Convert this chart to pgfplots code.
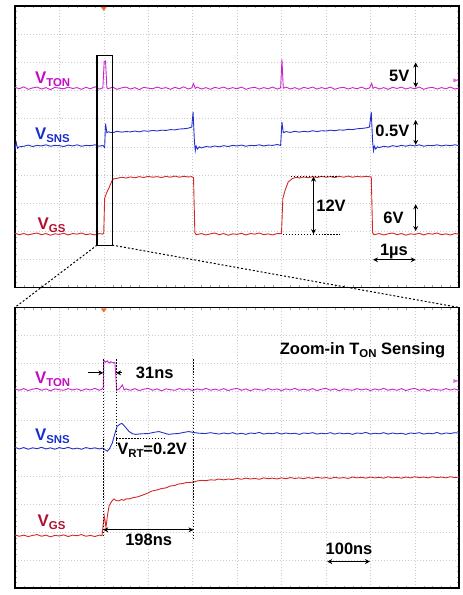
\documentclass[border=0pt]{standalone}
\usepackage{fontspec}
\setmainfont{Liberation Sans}
\usepackage{pgfplots}
\pgfplotsset{compat=1.18}
\usetikzlibrary{arrows.meta}
\definecolor{Ton}{HTML}{CC22CC}
\definecolor{TonLab}{HTML}{C40CC4}
\definecolor{Sns}{HTML}{2230CC}
\definecolor{SnsLab}{HTML}{1A2ECC}
\definecolor{Gs}{HTML}{D42626}
\definecolor{GsLab}{HTML}{B0102E}
\definecolor{Trig}{HTML}{F07030}
\newcommand{\sub}[1]{\raisebox{-0.35ex}{\fontsize{11.5}{12}\selectfont #1}}

% top panel, 1 us/div (x and y in divisions)
\pgfplotstableread{
x y
0.0 7.11
0.1 7.06
0.2 7.13
0.3 7.04
0.4 7.09
0.5 7.12
0.6 7.05
0.7 7.10
0.8 7.03
0.9 7.11
1.0 7.08
1.1 7.06
1.2 7.12
1.3 7.07
1.4 7.10
1.5 7.04
1.6 7.11
1.7 7.06
1.8 7.13
1.9 7.05
1.98 7.09
2.01 8.03
2.04 8.05
2.07 7.10
2.1 7.06
2.2 7.12
2.3 7.04
2.4 7.09
2.5 7.12
2.6 7.05
2.7 7.10
2.8 7.03
2.9 7.11
3.0 7.08
3.1 7.06
3.2 7.12
3.3 7.07
3.4 7.10
3.5 7.04
3.6 7.11
3.7 7.06
3.8 7.13
3.9 7.05
3.98 7.09
4.02 7.24
4.06 7.07
4.1 7.12
4.2 7.05
4.3 7.10
4.4 7.04
4.5 7.11
4.6 7.07
4.7 7.12
4.8 7.05
4.9 7.10
5.0 7.06
5.1 7.12
5.2 7.04
5.3 7.09
5.4 7.11
5.5 7.05
5.6 7.10
5.7 7.06
5.8 7.12
5.9 7.05
5.98 7.09
6.01 8.10
6.04 7.08
6.1 7.12
6.2 7.05
6.3 7.10
6.4 7.04
6.5 7.11
6.6 7.07
6.7 7.12
6.8 7.05
6.9 7.10
7.0 7.06
7.1 7.12
7.2 7.04
7.3 7.09
7.4 7.11
7.5 7.05
7.6 7.10
7.7 7.06
7.8 7.12
7.9 7.05
7.98 7.09
8.03 7.25
8.06 7.07
8.1 7.12
8.2 7.05
8.3 7.10
8.4 7.04
8.5 7.11
8.6 7.07
8.7 7.12
8.8 7.05
8.9 7.10
9.0 7.06
9.1 7.12
9.2 7.04
9.3 7.09
9.4 7.11
9.5 7.05
9.6 7.10
9.7 7.06
9.8 7.12
9.9 7.05
10.0 7.09
}\topton
\pgfplotstableread{
x y
0.0 4.90
0.03 5.15
0.06 4.95
0.1 5.00
0.2 5.02
0.3 5.06
0.4 5.01
0.5 5.05
0.6 5.03
0.7 5.07
0.8 5.02
0.9 5.05
1.0 5.04
1.1 5.01
1.2 5.06
1.3 5.03
1.4 5.07
1.5 5.02
1.6 5.05
1.7 5.04
1.8 5.07
1.9 5.02
1.98 5.05
2.02 4.97
2.04 5.82
2.07 5.50
2.1 5.53
2.2 5.50
2.3 5.55
2.4 5.52
2.5 5.54
2.6 5.53
2.7 5.56
2.8 5.53
2.9 5.57
3.0 5.55
3.1 5.58
3.2 5.56
3.3 5.59
3.4 5.58
3.5 5.61
3.6 5.60
3.7 5.63
3.8 5.64
3.9 5.66
3.98 5.70
4.01 6.23
4.04 5.20
4.06 4.86
4.08 5.02
4.11 4.92
4.15 5.00
4.2 4.96
4.3 5.01
4.4 4.99
4.5 5.03
4.6 5.00
4.7 5.04
4.8 5.01
4.9 5.05
5.0 5.03
5.1 5.06
5.2 5.02
5.3 5.05
5.4 5.04
5.5 5.07
5.6 5.03
5.7 5.06
5.8 5.05
5.9 5.08
5.98 5.05
6.01 5.88
6.04 5.50
6.1 5.54
6.2 5.51
6.3 5.55
6.4 5.52
6.5 5.55
6.6 5.53
6.7 5.57
6.8 5.54
6.9 5.57
7.0 5.56
7.1 5.59
7.2 5.57
7.3 5.60
7.4 5.59
7.5 5.62
7.6 5.61
7.7 5.64
7.8 5.65
7.9 5.67
7.98 5.70
8.02 6.23
8.05 5.20
8.07 4.86
8.09 5.02
8.12 4.92
8.16 5.00
8.2 4.97
8.3 5.02
8.4 4.99
8.5 5.04
8.6 5.01
8.7 5.05
8.8 5.02
8.9 5.06
9.0 5.03
9.1 5.07
9.2 5.02
9.3 5.05
9.4 5.04
9.5 5.07
9.6 5.03
9.7 5.06
9.8 5.04
9.9 5.07
10.0 5.04
}\topsns
\pgfplotstableread{
x y
0.0 1.93
0.1 1.88
0.2 1.92
0.3 1.87
0.4 1.91
0.5 1.94
0.6 1.88
0.7 1.92
0.8 1.86
0.9 1.91
1.0 1.89
1.1 1.93
1.2 1.87
1.3 1.92
1.4 1.90
1.5 1.94
1.6 1.88
1.7 1.91
1.8 1.87
1.9 1.92
1.98 1.90
2.00 1.95
2.02 3.17
2.06 3.35
2.12 3.55
2.18 3.78
2.22 3.86
2.3 3.88
2.4 3.92
2.5 3.89
2.6 3.93
2.7 3.90
2.8 3.94
2.9 3.91
3.0 3.95
3.1 3.92
3.2 3.94
3.3 3.91
3.4 3.95
3.5 3.92
3.6 3.96
3.7 3.92
3.8 3.95
3.9 3.93
3.98 3.94
4.02 3.90
4.05 1.95
4.08 1.88
4.2 1.92
4.3 1.87
4.4 1.91
4.5 1.94
4.6 1.88
4.7 1.92
4.8 1.86
4.9 1.91
5.0 1.89
5.1 1.93
5.2 1.87
5.3 1.92
5.4 1.90
5.5 1.94
5.6 1.88
5.7 1.91
5.8 1.87
5.9 1.92
6.00 1.92
6.03 3.17
6.08 3.45
6.15 3.75
6.25 3.88
6.35 3.92
6.4 3.89
6.5 3.93
6.6 3.90
6.7 3.94
6.8 3.91
6.9 3.95
7.0 3.92
7.1 3.94
7.2 3.91
7.3 3.95
7.4 3.92
7.5 3.96
7.6 3.92
7.7 3.95
7.8 3.93
7.9 3.95
8.02 3.93
8.05 1.95
8.08 1.88
8.2 1.92
8.3 1.87
8.4 1.91
8.5 1.94
8.6 1.88
8.7 1.92
8.8 1.86
8.9 1.91
9.0 1.89
9.1 1.93
9.2 1.87
9.3 1.92
9.4 1.90
9.5 1.94
9.6 1.88
9.7 1.91
9.8 1.87
9.9 1.92
10.0 1.90
}\topgs

% bottom panel, 100 ns/div
\pgfplotstableread{
x y
0.0 7.10
0.1 7.05
0.2 7.11
0.3 7.04
0.4 7.09
0.5 7.12
0.6 7.05
0.7 7.10
0.8 7.03
0.9 7.10
1.0 7.07
1.1 7.05
1.2 7.11
1.3 7.06
1.4 7.10
1.5 7.04
1.6 7.10
1.7 7.06
1.8 7.12
1.9 7.05
1.96 7.09
1.99 7.15
2.00 8.12
2.04 8.05
2.08 8.10
2.12 8.02
2.16 8.07
2.20 8.03
2.25 8.04
2.27 7.60
2.29 7.05
2.35 7.10
2.42 7.24
2.46 7.06
2.5 7.10
2.6 7.05
2.7 7.11
2.8 7.04
2.9 7.09
3.0 7.12
3.1 7.05
3.2 7.10
3.3 7.03
3.4 7.10
3.5 7.07
3.6 7.05
3.7 7.11
3.8 7.06
3.9 7.10
4.0 7.04
4.1 7.10
4.2 7.06
4.3 7.12
4.4 7.05
4.5 7.09
4.6 7.05
4.7 7.11
4.8 7.04
4.9 7.09
5.0 7.12
5.1 7.05
5.2 7.10
5.3 7.03
5.4 7.10
5.5 7.07
5.6 7.05
5.7 7.11
5.8 7.06
5.9 7.10
6.0 7.04
6.1 7.10
6.2 7.06
6.3 7.12
6.4 7.05
6.5 7.09
6.6 7.05
6.7 7.11
6.8 7.04
6.9 7.09
7.0 7.12
7.1 7.05
7.2 7.10
7.3 7.03
7.4 7.10
7.5 7.07
7.6 7.05
7.7 7.11
7.8 7.06
7.9 7.10
8.0 7.04
8.1 7.10
8.2 7.06
8.3 7.12
8.4 7.05
8.5 7.09
8.6 7.05
8.7 7.11
8.8 7.04
8.9 7.09
9.0 7.12
9.1 7.05
9.2 7.10
9.3 7.03
9.4 7.10
9.5 7.07
9.6 7.05
9.7 7.11
9.8 7.06
9.9 7.10
10.0 7.04
}\botton
\pgfplotstableread{
x y
0.0 5.02
0.1 4.96
0.2 5.01
0.3 4.95
0.4 5.00
0.5 4.97
0.6 5.02
0.7 4.96
0.8 5.00
0.9 4.95
1.0 5.01
1.1 4.97
1.2 5.02
1.3 4.96
1.4 4.99
1.5 4.95
1.6 5.01
1.7 4.97
1.8 5.00
1.9 4.96
1.98 4.99
2.03 4.93
2.08 4.88
2.13 4.97
2.19 5.16
2.25 5.50
2.30 5.76
2.36 5.84
2.41 5.87
2.48 5.75
2.57 5.58
2.65 5.50
2.72 5.48
2.85 5.50
3.01 5.51
3.12 5.55
3.24 5.58
3.35 5.53
3.46 5.48
3.57 5.50
3.68 5.51
3.80 5.55
3.91 5.58
4.05 5.54
4.15 5.52
4.29 5.51
4.40 5.54
4.51 5.51
4.6 5.49
4.7 5.53
4.8 5.50
4.9 5.54
5.0 5.49
5.1 5.52
5.2 5.48
5.3 5.53
5.4 5.51
5.5 5.55
5.6 5.49
5.7 5.52
5.8 5.50
5.9 5.54
6.0 5.49
6.1 5.53
6.2 5.50
6.3 5.52
6.4 5.48
6.5 5.53
6.6 5.51
6.7 5.54
6.8 5.49
6.9 5.52
7.0 5.50
7.1 5.54
7.2 5.49
7.3 5.53
7.4 5.50
7.5 5.52
7.6 5.48
7.7 5.53
7.8 5.51
7.9 5.55
8.0 5.49
8.1 5.52
8.2 5.50
8.3 5.54
8.4 5.49
8.5 5.53
8.6 5.50
8.7 5.52
8.8 5.48
8.9 5.53
9.0 5.51
9.1 5.54
9.2 5.49
9.3 5.52
9.4 5.50
9.5 5.55
9.6 5.49
9.7 5.53
9.8 5.51
9.9 5.54
10.0 5.52
}\botsns
\pgfplotstableread{
x y
0.0 1.90
0.1 1.85
0.2 1.89
0.3 1.84
0.4 1.88
0.5 1.91
0.6 1.85
0.7 1.89
0.8 1.83
0.9 1.88
1.0 1.86
1.1 1.90
1.2 1.84
1.3 1.89
1.4 1.87
1.5 1.91
1.6 1.85
1.7 1.88
1.8 1.84
1.9 1.89
1.96 1.87
2.01 2.58
2.03 2.40
2.05 2.16
2.08 2.55
2.12 2.93
2.18 3.10
2.23 3.18
2.28 3.12
2.34 3.11
2.40 3.16
2.45 3.13
2.50 3.18
2.57 3.18
2.65 3.22
2.75 3.25
2.83 3.29
2.95 3.36
3.08 3.46
3.20 3.50
3.30 3.55
3.39 3.57
3.50 3.64
3.60 3.66
3.68 3.71
3.78 3.73
3.85 3.76
3.95 3.77
4.02 3.78
4.1 3.82
4.2 3.84
4.3 3.83
4.4 3.86
4.5 3.85
4.58 3.89
4.7 3.86
4.8 3.89
4.9 3.87
5.0 3.91
5.1 3.88
5.2 3.92
5.3 3.89
5.4 3.91
5.5 3.88
5.6 3.93
5.7 3.90
5.8 3.92
5.9 3.89
6.0 3.93
6.1 3.90
6.2 3.94
6.3 3.91
6.4 3.93
6.5 3.90
6.6 3.94
6.7 3.91
6.8 3.95
6.9 3.92
7.0 3.94
7.1 3.91
7.2 3.95
7.3 3.92
7.4 3.94
7.5 3.91
7.6 3.96
7.7 3.93
7.8 3.95
7.9 3.92
8.0 3.96
8.1 3.93
8.2 3.95
8.3 3.92
8.4 3.97
8.5 3.93
8.6 3.95
8.7 3.92
8.8 3.96
8.9 3.93
9.0 3.97
9.1 3.94
9.2 3.96
9.3 3.93
9.4 3.97
9.5 3.94
9.6 3.96
9.7 3.93
9.8 3.97
9.9 3.94
10.0 3.96
}\botgs

\begin{document}
\begin{tikzpicture}[
  lab/.style={font=\bfseries\fontsize{17}{18}\selectfont, inner sep=0pt},
  ann/.style={font=\bfseries\fontsize{16.6}{18}\selectfont, inner sep=0pt},
  dbl/.style={line width=1.2pt, {Stealth[length=5pt,width=5pt]}-{Stealth[length=5pt,width=5pt]}},
  sgl/.style={line width=1.2pt, -{Stealth[length=5pt,width=5pt]}},
  vdot/.style={line width=1pt, dash pattern=on 1.5pt off 1.5pt}]
\pgfplotsset{scope/.style={
  scale only axis, width=448pt, xmin=0, xmax=10, ymin=0, ymax=10,
  xtick={0,...,10}, ytick={0,...,10}, xticklabels={}, yticklabels={},
  grid=major, major grid style={gray!40, dash pattern=on 0.8pt off 2.2pt},
  major tick length=0pt, minor x tick num=4, minor y tick num=4,
  minor tick length=2.5pt, minor tick style={gray!70}, tick align=inside,
  axis line style={line width=1.6pt}, clip=false},
  trace/.style={line width=0.9pt, no markers}}
\path (0,0) rectangle (465pt,595pt);

\begin{axis}[scope, name=top, height=284pt, at={(15pt,305pt)}, anchor=south west]
\addplot[trace, Ton] table {\topton};
\addplot[trace, Sns] table {\topsns};
\addplot[trace, Gs] table {\topgs};
\fill[Trig] (axis cs:2.0,10) ++(-3pt,-1pt) -- ++(6pt,0) -- ++(-3pt,-4pt) -- cycle;
\fill[Ton!70] (axis cs:10,7.36) ++(-1pt,0) -- ++(-5pt,2pt) -- ++(0,-4pt) -- cycle;
\draw[line width=1.2pt] (axis cs:1.85,1.51) rectangle (axis cs:2.19,8.24);
\coordinate (boxBL) at (axis cs:1.85,1.51);
\coordinate (boxBR) at (axis cs:2.19,1.51);
\node[lab, TonLab, anchor=base west] at (axis cs:0.45,7.25) {V\sub{TON}};
\node[lab, SnsLab, anchor=base west] at (axis cs:0.45,5.25) {V\sub{SNS}};
\node[lab, GsLab, anchor=base west] at (axis cs:0.51,2.08) {V\sub{GS}};
\node[ann, anchor=base east] at (axis cs:8.88,7.32) {5V};
\draw[dbl] (axis cs:9.02,7.99) -- (axis cs:9.02,7.11);
\node[ann, anchor=base east] at (axis cs:8.88,5.35) {0.5V};
\draw[dbl] (axis cs:9.02,5.95) -- (axis cs:9.02,5.07);
\draw[vdot] (axis cs:6.21,3.94) -- (axis cs:7.25,3.94);
\draw[vdot] (axis cs:6.03,1.90) -- (axis cs:7.32,1.90);
\draw[dbl] (axis cs:6.72,3.94) -- (axis cs:6.72,1.90);
\node[ann, anchor=base west] at (axis cs:6.78,2.71) {12V};
\node[ann, anchor=base east] at (axis cs:8.75,2.29) {6V};
\draw[dbl] (axis cs:9.02,2.96) -- (axis cs:9.02,2.01);
\node[ann, anchor=base] at (axis cs:8.53,1.13) {1µs};
\draw[dbl] (axis cs:8.06,0.99) -- (axis cs:9.02,0.99);
\end{axis}

\begin{axis}[scope, name=bot, height=283pt, at={(15pt,2pt)}, anchor=south west]
\addplot[trace, Ton] table {\botton};
\addplot[trace, Sns] table {\botsns};
\addplot[trace, Gs] table {\botgs};
\fill[Trig] (axis cs:2.0,10) ++(-3pt,-1pt) -- ++(6pt,0) -- ++(-3pt,-4pt) -- cycle;
\fill[Ton!70] (axis cs:10,7.38) ++(-1pt,0) -- ++(-5pt,2pt) -- ++(0,-4pt) -- cycle;
\node[ann, anchor=base west] at (axis cs:5.96,8.34) {Zoom-in T\sub{ON} Sensing};
\node[lab, TonLab, anchor=base west] at (axis cs:0.45,7.28) {V\sub{TON}};
\node[lab, SnsLab, anchor=base west] at (axis cs:0.45,5.27) {V\sub{SNS}};
\node[lab, GsLab, anchor=base west] at (axis cs:0.51,2.19) {V\sub{GS}};
\draw[vdot] (axis cs:1.99,8.16) -- (axis cs:1.99,1.80);
\draw[vdot] (axis cs:2.28,8.16) -- (axis cs:2.28,5.05);
\draw[vdot] (axis cs:4.02,8.16) -- (axis cs:4.02,1.77);
\draw[vdot] (axis cs:2.28,5.34) -- (axis cs:3.39,5.34);
\draw[sgl] (axis cs:1.65,7.67) -- (axis cs:1.99,7.67);
\draw[sgl] (axis cs:2.41,7.67) -- (axis cs:2.28,7.67);
\node[ann, anchor=base west] at (axis cs:2.72,7.46) {31ns};
\node[ann, anchor=base west] at (axis cs:2.30,4.77) {V\sub{RT}=0.2V};
\draw[dbl] (axis cs:1.99,2.08) -- (axis cs:4.02,2.08);
\node[ann, anchor=base] at (axis cs:3.01,1.52) {198ns};
\node[ann, anchor=base] at (axis cs:7.52,1.20) {100ns};
\draw[dbl] (axis cs:7.03,0.95) -- (axis cs:7.99,0.95);
\end{axis}

\draw[line width=1pt, dash pattern=on 2pt off 2pt] (boxBL) -- (bot.north west);
\draw[line width=1pt, dash pattern=on 2pt off 2pt] (boxBR) -- (bot.north east);
\end{tikzpicture}
\end{document}
